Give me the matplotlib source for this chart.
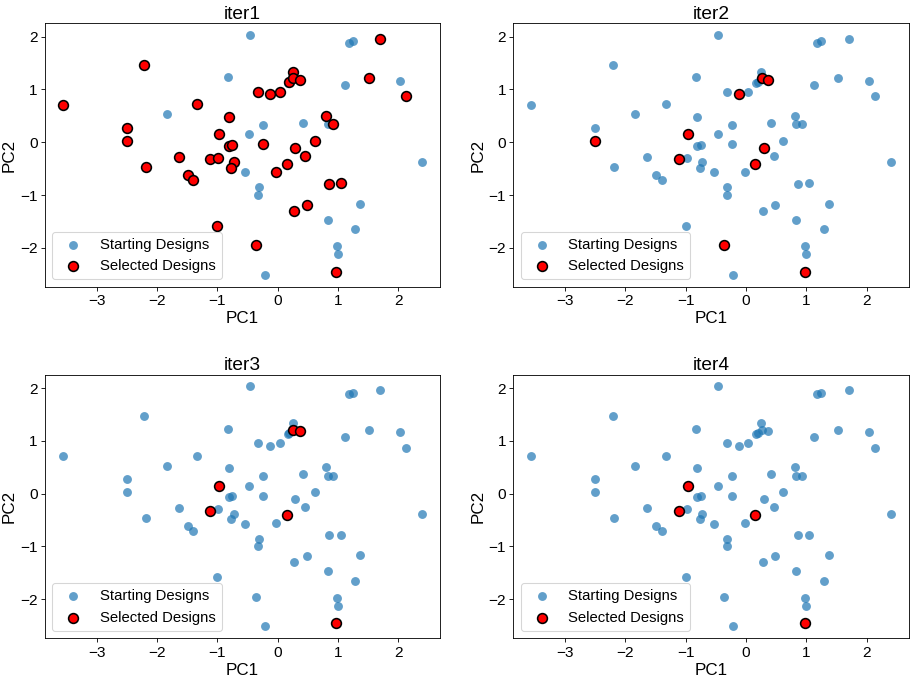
import matplotlib.pyplot as plt

plt.rcParams['font.family'] = ['Liberation Sans', 'DejaVu Sans']

# starting designs (PC1, PC2)
start_pc1 = [-3.56, -2.21, -0.83, -1.33, -1.84, -0.81, -2.50, -2.50, -0.97, -0.81,
             -0.75, -1.64, -1.12, -0.98, -2.19, -0.73, -0.77, -1.49, -1.40, -1.00,
             -0.46, 1.18, 1.25, 1.70, 0.25, 0.19, 0.17, 0.26, 0.37, -0.32,
             -0.12, 0.04, 1.12, 1.52, 2.03, 2.13, 0.81, 0.83, 0.92, 0.42,
             -0.24, -0.47, 0.62, -0.24, 0.29, 0.46, 0.15, -0.54, -0.02, 2.40,
             0.86, 1.05, -0.31, -0.32, 0.48, 0.28, 1.37, 0.83, 1.29, -0.36,
             0.98, 1.00, -0.21, 0.97]
start_pc2 = [0.71, 1.47, 1.23, 0.72, 0.53, 0.48, 0.28, 0.03, 0.15, -0.07,
             -0.05, -0.28, -0.32, -0.29, -0.47, -0.38, -0.48, -0.62, -0.71, -1.58,
             2.03, 1.88, 1.91, 1.96, 1.34, 1.15, 1.13, 1.21, 1.18, 0.95,
             0.91, 0.96, 1.08, 1.21, 1.17, 0.87, 0.50, 0.34, 0.34, 0.37,
             0.33, 0.15, 0.03, -0.04, -0.11, -0.26, -0.41, -0.57, -0.56, -0.38,
             -0.79, -0.78, -0.85, -1.00, -1.18, -1.30, -1.17, -1.47, -1.65, -1.95,
             -1.97, -2.12, -2.51, -2.45]

# selected designs per iteration
iter1_pc1 = [-3.56, -2.21, -1.33, -0.81, -2.50, -2.50, -0.97, -0.81, -0.75, -1.64,
             -1.12, -0.98, -2.19, -0.73, -0.77, -1.49, -1.40, -1.00, 1.70, 0.25,
             0.19, 0.26, 0.37, -0.32, -0.12, 0.04, 1.52, 2.13, 0.81, 0.92,
             0.62, -0.24, 0.29, 0.46, 0.15, -0.02, 0.86, 1.05, 0.48, 0.28,
             -0.36, 0.97]
iter1_pc2 = [0.71, 1.47, 0.72, 0.48, 0.28, 0.03, 0.15, -0.07, -0.05, -0.28,
             -0.32, -0.29, -0.47, -0.38, -0.48, -0.62, -0.71, -1.58, 1.96, 1.34,
             1.15, 1.21, 1.18, 0.95, 0.91, 0.96, 1.21, 0.87, 0.50, 0.34,
             0.03, -0.04, -0.11, -0.26, -0.41, -0.56, -0.79, -0.78, -1.18, -1.30,
             -1.95, -2.45]

iter2_pc1 = [-2.50, -0.97, -1.12, 0.26, 0.37, -0.12, 0.29, 0.15, -0.36, 0.97]
iter2_pc2 = [0.03, 0.15, -0.32, 1.21, 1.18, 0.91, -0.11, -0.41, -1.95, -2.45]

iter3_pc1 = [-0.97, -1.12, 0.26, 0.37, 0.15, 0.97]
iter3_pc2 = [0.15, -0.32, 1.21, 1.18, -0.41, -2.45]

iter4_pc1 = [-0.97, -1.12, 0.15, 0.97]
iter4_pc2 = [0.15, -0.32, -0.41, -2.45]

iterations = ['iter1', 'iter2', 'iter3', 'iter4']
selected = [(iter1_pc1, iter1_pc2), (iter2_pc1, iter2_pc2),
            (iter3_pc1, iter3_pc2), (iter4_pc1, iter4_pc2)]

fig, axes = plt.subplots(2, 2, figsize=(12, 681 / 76.42))
axes = axes.flatten()

for ax, name, (sx, sy) in zip(axes, iterations, selected):
    ax.scatter(start_pc1, start_pc2, s=70, color='tab:blue', alpha=0.7,
               linewidths=0, label='Starting Designs')
    ax.scatter(sx, sy, s=85, color='red', edgecolors='black', linewidths=1.5,
               label='Selected Designs')
    ax.set_title(name, fontsize=18, pad=4)
    ax.set_xlabel('PC1', fontsize=16, labelpad=3)
    ax.set_ylabel('PC2', fontsize=16, labelpad=3)
    ax.tick_params(axis='both', labelsize=14.5)
    ax.legend(loc='lower left', fontsize=14)

plt.subplots_adjust(left=0.049, right=0.991, top=0.966, bottom=0.063,
                    wspace=0.185, hspace=0.333)

plt.savefig('out.png', dpi=76.42)
